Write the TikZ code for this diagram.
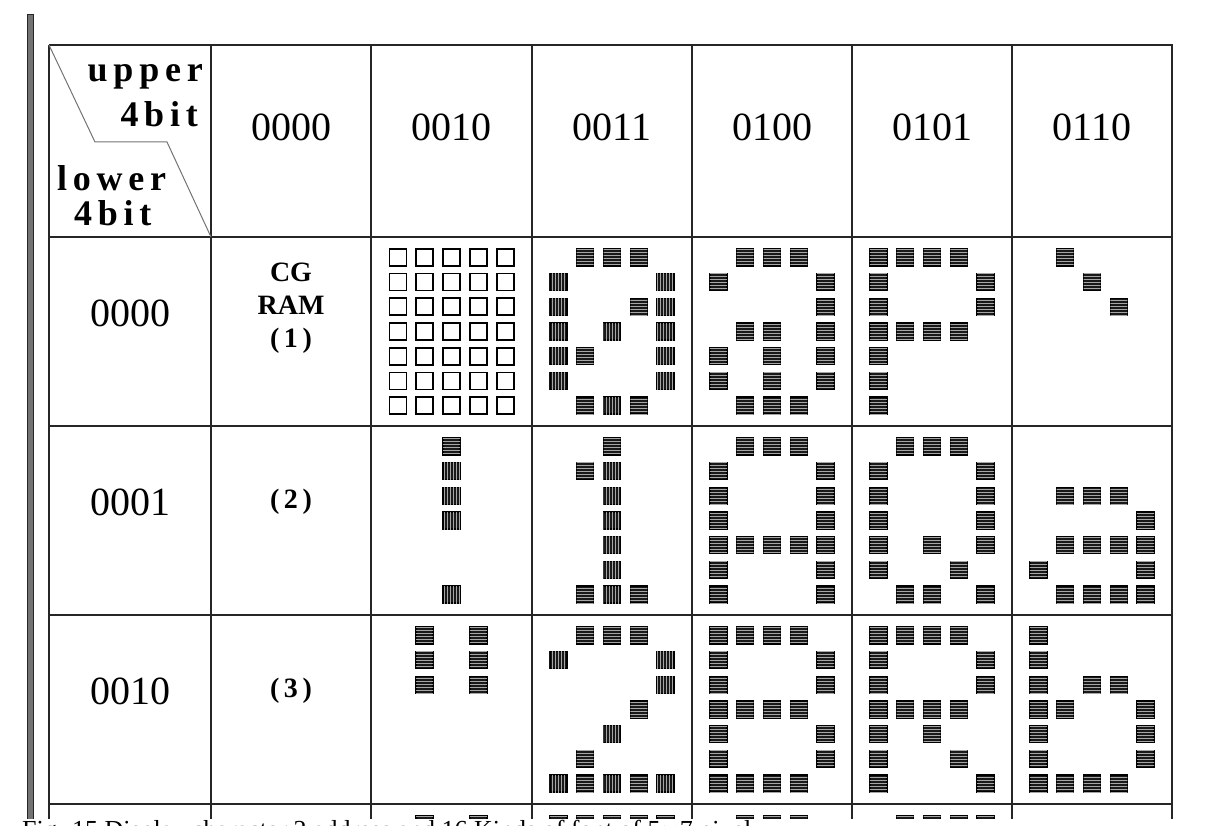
\documentclass[tikz,border=0pt]{standalone}
\usepackage{fontspec}
\newfontfamily\cornerfont[LetterSpace=16]{Liberation Serif}
\newfontfamily\codefont{Liberation Serif}
\newfontfamily\capfont{Liberation Serif}
\usetikzlibrary{patterns}
\tikzset{
  {grid line/.style} ={draw, line width=1.6pt, black!85},
  {corner line/.style} ={draw, line width=1pt, black!55},
  {bar/.style} ={draw=black!85, fill=black!55, line width=1pt},
  code/.style ={inner sep=0, font=\codefont\fontsize{40}{44}\selectfont},
  cgram/.style ={inner sep=0, align=center,
                 font=\codefont\fontsize{28}{33}\selectfont\bfseries},
  corner/.style ={inner sep=0, font=\cornerfont\fontsize{36}{40}\selectfont\bfseries},
  caption/.style ={inner sep=0, font=\capfont\fontsize{26}{30}\selectfont},
  dot/.style ={rectangle, draw=black, line width=1.5pt, inner sep=0,
               minimum width=17pt, minimum height=17pt},
  {dot o/.style} ={dot, fill=white, line width=1.8pt},
  {dot h/.style} ={dot, fill=black!90,
               postaction={pattern=horizontal lines, pattern color=black!35}},
  {dot v/.style} ={dot, fill=black!90,
               postaction={pattern=vertical lines, pattern color=black!35}},
}
% one 5x7 character: name of its centre, then seven rows (. = off)
\newcommand\putdot[3]{\if#3.\else
  \node[dot #3] (\gname-#1-#2) at ([shift={({(#1-3)*26.8},{(#2-4)*24.7})}]\gname) {};\fi}
\newcommand\glyphrow[6]{\putdot{1}{#1}{#2}\putdot{2}{#1}{#3}\putdot{3}{#1}{#4}%
  \putdot{4}{#1}{#5}\putdot{5}{#1}{#6}}
\newcommand\glyph[8]{\def\gname{#1}\glyphrow{1}#2\glyphrow{2}#3\glyphrow{3}#4%
  \glyphrow{4}#5\glyphrow{5}#6\glyphrow{6}#7\glyphrow{7}#8}

\begin{document}
\begin{tikzpicture}[x=1pt,y=-1pt]
\useasboundingbox (0,0) rectangle (1210,826);
\clip (0,0) rectangle (1210,826);

\draw[bar] (27,15) rectangle (33,830);

% table
\foreach \x in {49,211,371,532,692,852,1012,1172}
  \draw[grid line] (\x,45) -- (\x,830);
\foreach \y in {45,237,426,615,804}
  \draw[grid line] (49,\y) -- (1173,\y);
\draw[corner line] (49,45) -- (95,142) -- (167,142) -- (211,237);

\node[corner, anchor=base east] (upper) at (203,82) {upper};
\node[corner, anchor=base east] (upperbit) at (198,127) {4bit};
\node[corner, anchor=base west] (lower) at (57,191) {lower};
\node[corner, anchor=base west] (lowerbit) at (74,226) {4bit};

\foreach \n/\x in {0000/291,0010/451.5,0011/612,0100/772,0101/932,0110/1092}
  \node[code] (h\n) at (\x,127) {\n};
\foreach \n/\y in {0000/313,0001/502,0010/691}
  \node[code] (r\n) at (130,\y) {\n};

\node[cgram] (cg1) at (291,308) {CG\\RAM\\(\,1\,)};
\node[cgram] (cg2) at (291,502) {(\,2\,)};
\node[cgram] (cg3) at (291,691) {(\,3\,)};

% character centres
\foreach \g/\x/\y in {blank/451.5/331.5, zero/612/331.5, at/772/331.5,
    P/932/331.5, grave/1092/331.5,
    excl/451.5/520.5, one/612/520.5, A/772/520.5, Q/932/520.5, a/1092/520.5,
    quote/451.5/709.5, two/612/709.5, B/772/709.5, R/932/709.5, b/1092/709.5,
    hash/451.5/898.5, three/612/898.5, C/772/898.5, S/932/898.5, c/1092/898.5}
  \coordinate (\g) at (\x,\y);

\glyph{blank}{ooooo}{ooooo}{ooooo}{ooooo}{ooooo}{ooooo}{ooooo}
\glyph{zero}{.hhh.}{v...v}{v..hv}{v.v.v}{vh..v}{v...v}{.hvh.}
\glyph{at}{.hhh.}{h...h}{....h}{.hh.h}{h.h.h}{h.h.h}{.hhh.}
\glyph{P}{hhhh.}{h...h}{h...h}{hhhh.}{h....}{h....}{h....}
\glyph{grave}{.h...}{..h..}{...h.}{.....}{.....}{.....}{.....}

\glyph{excl}{..h..}{..v..}{..v..}{..v..}{.....}{.....}{..v..}
\glyph{one}{..h..}{.hv..}{..v..}{..v..}{..v..}{..v..}{.hvh.}
\glyph{A}{.hhh.}{h...h}{h...h}{h...h}{hhhhh}{h...h}{h...h}
\glyph{Q}{.hhh.}{h...h}{h...h}{h...h}{h.h.h}{h..h.}{.hh.h}
\glyph{a}{.....}{.....}{.hhh.}{....h}{.hhhh}{h...h}{.hhhh}

\glyph{quote}{.h.h.}{.h.h.}{.h.h.}{.....}{.....}{.....}{.....}
\glyph{two}{.hhh.}{v...v}{....v}{...h.}{..v..}{.h...}{vhvhv}
\glyph{B}{hhhh.}{h...h}{h...h}{hhhh.}{h...h}{h...h}{hhhh.}
\glyph{R}{hhhh.}{h...h}{h...h}{hhhh.}{h.h..}{h..h.}{h...h}
\glyph{b}{h....}{h....}{h.hh.}{hh..h}{h...h}{h...h}{hhhh.}

\glyph{hash}{.h.h.}{.h.h.}{hhhhh}{.h.h.}{hhhhh}{.h.h.}{.h.h.}
\glyph{three}{hhhhh}{...h.}{..h..}{...h.}{....h}{h...h}{.hhh.}
\glyph{C}{.hhh.}{h...h}{h....}{h....}{h....}{h...h}{.hhh.}
\glyph{S}{.hhhh}{h....}{h....}{.hhh.}{....h}{....h}{hhhh.}
\glyph{c}{.....}{.....}{.hhh.}{h....}{h....}{h...h}{.hhh.}

% caption, cut by the lower edge
\fill[white] (0,819) rectangle (1210,830);
\node[caption, anchor=north west] (cap) at (22,820)
  {Fig. 15 Display character 2 address and 16 Kinds of font of 5$\times$7 pixel};
\end{tikzpicture}
\end{document}
